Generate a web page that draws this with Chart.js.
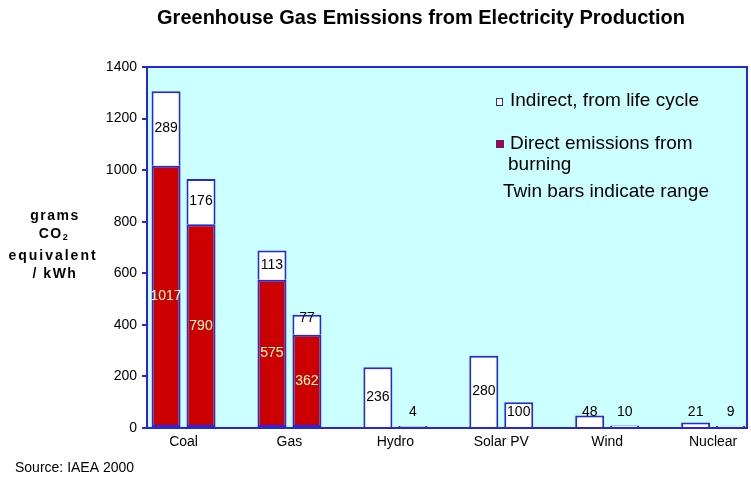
<!DOCTYPE html>
<html>
<head>
<meta charset="utf-8">
<title>Greenhouse Gas Emissions from Electricity Production</title>
<script src="https://cdn.jsdelivr.net/npm/chart.js@4.4.1/dist/chart.umd.min.js"></script>
<style>
    body { margin: 0; background: #ffffff; }
    canvas { display: block; }
</style>
</head>
<body>
<canvas id="chart" width="751" height="479"></canvas>
<script>
// Data (g CO2 equivalent / kWh)
const categories = ['Coal', 'Gas', 'Hydro', 'Solar PV', 'Wind', 'Nuclear'];
// left bar of each twin pair
const directLeft = [1017, 575, null, null, null, null];
const indirectLeft = [289, 113, 236, 280, 48, 21];
// right bar of each twin pair
const directRight = [790, 362, null, null, null, null];
const indirectRight = [176, 77, 4, 100, 10, 9];
const yTicks = [0, 200, 400, 600, 800, 1000, 1200, 1400];

const chartTitle = 'Greenhouse Gas Emissions from Electricity Production';
const axisTitle = ['grams', 'CO2', 'equivalent', '/ kWh'];
const legendIndirect = 'Indirect, from life cycle';
const legendDirect = ['Direct emissions from', 'burning'];
const legendNote = 'Twin bars indicate range';
const sourceNote = 'Source: IAEA 2000';

const BLUE = '#2626dc';
const RED = '#cc0000';
const PLOT_BG = '#ccffff';
const FONT = '"Liberation Sans", Arial, sans-serif';

function points(values) {
    return values.map((v, i) => ({ x: i, y: v }));
}

// Fills the plot, draws the frame, the texts and the value labels
const decorations = {
    id: 'decorations',
    beforeDatasetsDraw(chart) {
        const { ctx, chartArea: a } = chart;
        ctx.save();
        ctx.fillStyle = PLOT_BG;
        ctx.fillRect(a.left, a.top, a.right - a.left, a.bottom - a.top);
        ctx.restore();
    },
    afterDatasetsDraw(chart) {
        const { ctx, chartArea: a } = chart;
        ctx.save();

        // frame round the plot
        ctx.strokeStyle = BLUE;
        ctx.lineWidth = 2;
        ctx.strokeRect(a.left, a.top, a.right - a.left, a.bottom - a.top);

        // value labels inside the bars
        ctx.font = '14px ' + FONT;
        ctx.textAlign = 'center';
        ctx.textBaseline = 'middle';
        chart.data.datasets.forEach((ds, di) => {
            const meta = chart.getDatasetMeta(di);
            meta.data.forEach((el, i) => {
                const v = ds.data[i].y;
                if (v === null || v === undefined) return;
                const h = el.base - el.y;
                let y = (el.y + el.base) / 2;
                if (h < 24) y = el.y + 3;
                y = Math.min(y, a.bottom - 16);
                ctx.fillStyle = ds.isDirect ? '#ffffc8' : '#000000';
                ctx.fillText(String(v), el.x, y);
            });
        });

        // title
        ctx.fillStyle = '#000000';
        ctx.font = 'bold 20px ' + FONT;
        ctx.fillText(chartTitle, 421, 18);

        // y axis title
        ctx.font = 'bold 14px ' + FONT;
        ctx.letterSpacing = '1.5px';
        ctx.fillText(axisTitle[0], 55, 216);
        const co = 'CO';
        const coW = ctx.measureText(co).width;
        ctx.font = 'bold 9px ' + FONT;
        const subW = ctx.measureText('2').width;
        const startX = 54 - (coW + subW) / 2;
        ctx.textAlign = 'left';
        ctx.fillText('2', startX + coW, 238);
        ctx.font = 'bold 14px ' + FONT;
        ctx.fillText(co, startX, 234);
        ctx.textAlign = 'center';
        ctx.letterSpacing = '2px';
        ctx.fillText(axisTitle[2], 53, 256);
        ctx.letterSpacing = '1.5px';
        ctx.fillText(axisTitle[3], 55, 274);
        ctx.letterSpacing = '0px';

        // legend
        ctx.lineWidth = 1;
        ctx.fillStyle = '#ffffff';
        ctx.fillRect(496.5, 98.5, 6, 7);
        ctx.strokeRect(496.5, 98.5, 6, 7);
        ctx.fillStyle = RED;
        ctx.fillRect(496.5, 140.5, 7, 7);
        ctx.strokeRect(496.5, 140.5, 7, 7);

        ctx.fillStyle = '#000000';
        ctx.font = '19px ' + FONT;
        ctx.textAlign = 'left';
        ctx.fillText(legendIndirect, 510, 101);
        ctx.fillText(legendDirect[0], 510, 144);
        ctx.fillText(legendDirect[1], 508, 165);
        ctx.fillText(legendNote, 503, 192);

        // source
        ctx.font = '14px ' + FONT;
        ctx.fillText(sourceNote, 15, 468);
        ctx.restore();
    }
};

const ctx = document.getElementById('chart').getContext('2d');

const config = {
    type: 'bar',
    data: {
        datasets: [
            { label: 'Direct', data: points(directLeft), stack: 'left', isDirect: true,
              backgroundColor: RED, borderSkipped: false },
            { label: 'Indirect', data: points(indirectLeft), stack: 'left', isDirect: false,
              backgroundColor: '#ffffff', borderSkipped: 'start', minBarLength: 2 },
            { label: 'Direct', data: points(directRight), stack: 'right', isDirect: true,
              backgroundColor: RED, borderSkipped: false },
            { label: 'Indirect', data: points(indirectRight), stack: 'right', isDirect: false,
              backgroundColor: '#ffffff', borderSkipped: 'start', minBarLength: 2 },
        ],
    },
    options: {
        responsive: false,
        animation: false,
        layout: { padding: { top: 67, right: 4, bottom: 0, left: 0 } },
        datasets: {
            bar: {
                borderColor: BLUE,
                borderWidth: 2,
                categoryPercentage: 0.66,
                barPercentage: 0.83,
            },
        },
        plugins: {
            legend: { display: false },
            title: { display: false },
            tooltip: { enabled: false },
        },
        scales: {
            x: {
                type: 'linear',
                stacked: true,
                offset: false,
                min: -0.345,
                max: 5.32,
                afterBuildTicks: (scale) => {
                    scale.ticks = categories.map((c, i) => ({ value: i }));
                },
                afterFit: (scale) => { scale.height = 51; },
                ticks: {
                    callback: (v) => categories[v],
                    color: '#000000',
                    font: { family: FONT, size: 14 },
                    padding: 6,
                    autoSkip: false,
                    maxRotation: 0,
                },
                grid: { display: false, drawTicks: false },
                border: { display: false },
            },
            y: {
                stacked: true,
                min: 0,
                max: 1400,
                afterBuildTicks: (scale) => {
                    scale.ticks = yTicks.map((v) => ({ value: v }));
                },
                afterFit: (scale) => { scale.width = 147; },
                ticks: {
                    callback: (v) => String(v),
                    color: '#000000',
                    font: { family: FONT, size: 14 },
                    padding: 5,
                },
                grid: {
                    drawOnChartArea: false,
                    tickLength: 5,
                    color: BLUE,
                    lineWidth: 2,
                },
                border: { display: false },
            },
        },
    },
    plugins: [decorations],
};

const myChart = new Chart(ctx, config);
</script>
</body>
</html>
